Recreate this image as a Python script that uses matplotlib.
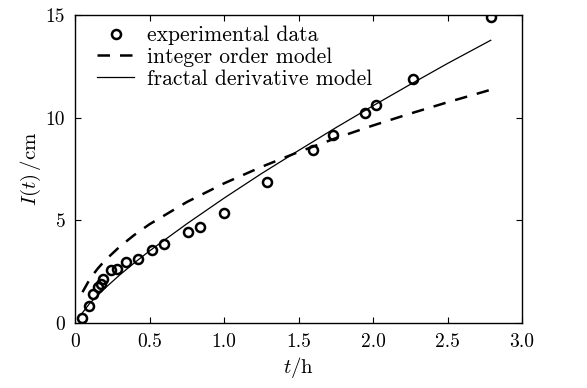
import matplotlib
matplotlib.use("Agg")
import matplotlib.pyplot as plt

# ============================================================
# Data
# ============================================================

t_exp = [0.05, 0.094, 0.123, 0.152, 0.172, 0.19, 0.24, 0.284, 0.342, 0.425,
         0.517, 0.60, 0.76, 0.84, 1.0, 1.287, 1.60, 1.73, 1.946, 2.017,
         2.27, 2.79]
I_exp = [0.25, 0.85, 1.42, 1.73, 1.91, 2.14, 2.56, 2.63, 2.99, 3.10,
         3.58, 3.87, 4.43, 4.66, 5.37, 6.88, 8.45, 9.15, 10.24, 10.6,
         11.9, 14.9]

t_int = [0.05, 0.1, 0.15, 0.2, 0.3, 0.4, 0.5, 0.75, 1.0, 1.25, 1.5, 1.75,
         2.0, 2.25, 2.5, 2.79]
I_int = [1.50, 2.15, 2.63, 3.04, 3.72, 4.30, 4.81, 5.89, 6.80, 7.60, 8.33,
         9.00, 9.62, 10.20, 10.75, 11.36]

t_frac = [0.05, 0.1, 0.2, 0.3, 0.4, 0.5, 0.75, 1.0, 1.25, 1.5, 1.75, 2.0,
          2.25, 2.5, 2.79]
I_frac = [0.50, 0.97, 1.69, 2.34, 2.94, 3.51, 4.83, 6.08, 7.27, 8.40, 9.51,
          10.58, 11.62, 12.64, 13.77]

x_ticks = [0, 0.5, 1.0, 1.5, 2.0, 2.5, 3.0]
x_labels = ["0", "0.5", "1.0", "1.5", "2.0", "2.5", "3.0"]
y_ticks = [0, 5, 10, 15]
y_labels = ["0", "5", "10", "15"]

# ============================================================
# Plot
# ============================================================

plt.rcParams["font.family"] = "serif"
plt.rcParams["font.serif"] = ["cmr10", "DejaVu Serif"]
plt.rcParams["mathtext.fontset"] = "cm"
plt.rcParams["axes.formatter.use_mathtext"] = True

fig = plt.figure(figsize=(5.87, 3.88), dpi=100)
ax = fig.add_axes([0.1278, 0.1675, 0.7615, 0.7938])

ax.plot(t_exp, I_exp, linestyle="none", marker="o", markersize=6.5,
        markerfacecolor="none", markeredgecolor="black", markeredgewidth=1.8,
        label="experimental data")
ax.plot(t_int, I_int, color="black", linewidth=1.8, linestyle=(0, (5, 4)),
        label="integer order model")
ax.plot(t_frac, I_frac, color="black", linewidth=0.9,
        label="fractal derivative model")

ax.set_xlim(0, 3.0)
ax.set_ylim(0, 15)
ax.set_xticks(x_ticks)
ax.set_xticklabels(x_labels)
ax.set_yticks(y_ticks)
ax.set_yticklabels(y_labels)
ax.tick_params(direction="in", top=True, right=True, length=4, width=0.8,
               labelsize=14, pad=7)
for s in ax.spines.values():
    s.set_linewidth(1.0)

ax.set_xlabel(r"$t/\mathrm{h}$", fontsize=15, labelpad=3)
ax.set_ylabel(r"$I(t)\,/\mathrm{cm}$", fontsize=15, labelpad=2)

ax.legend(loc="upper left", bbox_to_anchor=(0.031, 0.993), frameon=False,
          fontsize=15.5, handlelength=1.7, handletextpad=0.6,
          labelspacing=0.1, borderaxespad=0.0, numpoints=1)

fig.savefig("out.png", dpi=100)
